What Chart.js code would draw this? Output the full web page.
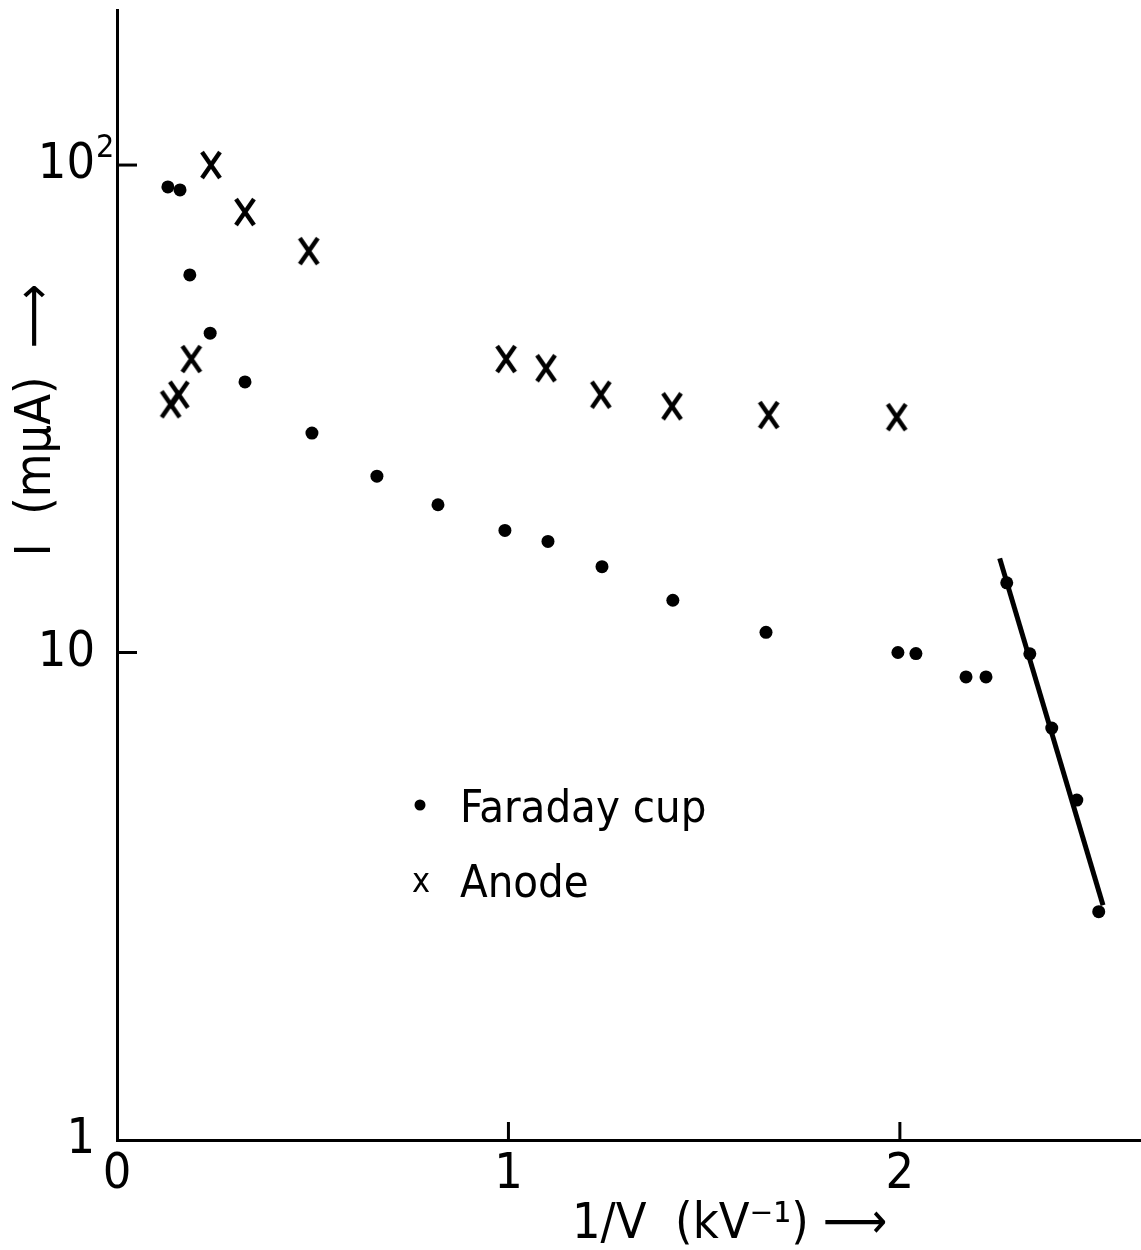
<!DOCTYPE html>
<html>
<head>
<meta charset="utf-8">
<script src="https://cdn.jsdelivr.net/npm/chart.js@4"></script>
<style>
  body { margin: 0; background: #fff; }
  canvas { display: block; }
</style>
</head>
<body>
<canvas id="fnChart" width="1141" height="1250"></canvas>
<script>
// Faraday cup current (dots)
const faradayX = [0.130, 0.161, 0.186, 0.238, 0.327, 0.498, 0.664, 0.820, 0.991, 1.101, 1.239, 1.420, 1.658, 1.995, 2.041, 2.169, 2.220, 2.273, 2.332, 2.388, 2.452, 2.508];
const faradayY = [90.2, 88.9, 59.5, 45.2, 35.9, 28.2, 23.0, 20.1, 17.8, 16.9, 15.0, 12.8, 11.0, 10.0, 9.95, 8.91, 8.91, 13.9, 9.94, 7.0, 4.98, 2.94];

// Anode current (crosses)
const anodeX = [0.137, 0.158, 0.190, 0.240, 0.327, 0.490, 0.994, 1.096, 1.236, 1.418, 1.665, 1.992];
const anodeY = [32.3, 33.8, 40.0, 100, 80.1, 66.6, 40.0, 38.3, 33.8, 32.0, 30.7, 30.4];

// straight line drawn through the last Faraday points
const fitX = [2.255, 2.519];
const fitY = [15.6, 3.03];

const xTicks = [0, 1, 2];
const yTicks = [1, 10, 100];

const FONT = '"Liberation Sans Narrow", "DejaVu Sans Condensed", "Liberation Sans", "DejaVu Sans", sans-serif';

const toPoints = (xs, ys) => xs.map((x, i) => ({ x: x, y: ys[i] }));

// taller-than-wide X marker like the hand drawn one
const crossMark = document.createElement("canvas");
crossMark.width = 24;
crossMark.height = 30;
(function () {
    const c = crossMark.getContext("2d");
    c.strokeStyle = "#000";
    c.lineWidth = 4.5;
    c.beginPath();
    c.moveTo(3, 2); c.lineTo(21, 28);
    c.moveTo(21, 2); c.lineTo(3, 28);
    c.stroke();
})();

// inward tick marks, superscript, axis titles and the legend
const extras = {
    id: "extras",
    afterDraw(chart) {
        const ctx = chart.ctx;
        const xs = chart.scales.x;
        const ys = chart.scales.y;
        const area = chart.chartArea;
        ctx.save();
        ctx.strokeStyle = "#000";
        ctx.fillStyle = "#000";
        ctx.lineWidth = 3;

        yTicks.forEach(v => {
            if (v === 1) return;
            const py = ys.getPixelForValue(v);
            ctx.beginPath();
            ctx.moveTo(area.left, py);
            ctx.lineTo(area.left + 20, py);
            ctx.stroke();
        });
        xTicks.forEach(v => {
            if (v === 0) return;
            const px = xs.getPixelForValue(v);
            ctx.beginPath();
            ctx.moveTo(px, area.bottom);
            ctx.lineTo(px, area.bottom - 18);
            ctx.stroke();
        });

        // exponent of 10^2
        ctx.font = "32px " + FONT;
        ctx.textAlign = "left";
        ctx.textBaseline = "alphabetic";
        ctx.fillText("2", 96, ys.getPixelForValue(100) - 8);

        // x title
        ctx.font = "50px " + FONT;
        ctx.fillText("1/V  (kV\u207B\u00B9) \u27F6", 572, 1238);

        // y title
        ctx.save();
        ctx.translate(50, 420);
        ctx.rotate(-Math.PI / 2);
        ctx.textAlign = "center";
        ctx.fillText("I  (m\u03BCA)  \u27F6", 0, 0);
        ctx.restore();

        // legend
        ctx.beginPath();
        ctx.arc(420, 805, 5.5, 0, Math.PI * 2);
        ctx.fill();
        ctx.font = "45px " + FONT;
        ctx.fillText("Faraday cup", 460, 822);
        ctx.fillText("Anode", 460, 897);
        ctx.font = "34px " + FONT;
        ctx.textAlign = "center";
        ctx.fillText("x", 421, 892);

        ctx.restore();
    }
};

new Chart(document.getElementById("fnChart").getContext("2d"), {
    type: "scatter",
    data: {
        datasets: [
            {
                label: "Faraday cup",
                data: toPoints(faradayX, faradayY),
                pointStyle: "circle",
                pointRadius: 6.5,
                backgroundColor: "#000",
                borderColor: "#000",
                borderWidth: 0
            },
            {
                label: "Anode",
                data: toPoints(anodeX, anodeY),
                pointStyle: crossMark,
                pointRadius: 12
            },
            {
                label: "fit",
                data: toPoints(fitX, fitY),
                showLine: true,
                pointRadius: 0,
                borderColor: "#000",
                borderWidth: 5
            }
        ]
    },
    options: {
        responsive: false,
        animation: false,
        devicePixelRatio: 1,
        layout: { autoPadding: false, padding: { top: 10, right: 0, left: 0, bottom: 0 } },
        plugins: {
            legend: { display: false },
            tooltip: { enabled: false },
            title: { display: false }
        },
        scales: {
            x: {
                type: "linear",
                min: 0,
                max: 2.616,
                afterFit: s => { s.height = 110; s.paddingLeft = 0; s.paddingRight = 0; },
                afterBuildTicks: s => { s.ticks = xTicks.map(v => ({ value: v })); },
                grid: { display: false, drawTicks: false },
                border: { display: true, color: "#000", width: 3 },
                ticks: {
                    color: "#000",
                    padding: 5,
                    font: { family: FONT, size: 50 },
                    callback: v => String(v)
                }
            },
            y: {
                type: "logarithmic",
                min: 1,
                max: 208,
                afterFit: s => { s.width = 117; s.paddingTop = 0; s.paddingBottom = 0; },
                afterBuildTicks: s => { s.ticks = yTicks.map(v => ({ value: v })); },
                grid: { display: false, drawTicks: false },
                border: { display: true, color: "#000", width: 3 },
                ticks: {
                    color: "#000",
                    padding: 22,
                    autoSkip: false,
                    font: { family: FONT, size: 50 },
                    callback: v => (v === 1 ? "1" : "10")
                }
            }
        }
    },
    plugins: [extras]
});
</script>
</body>
</html>
